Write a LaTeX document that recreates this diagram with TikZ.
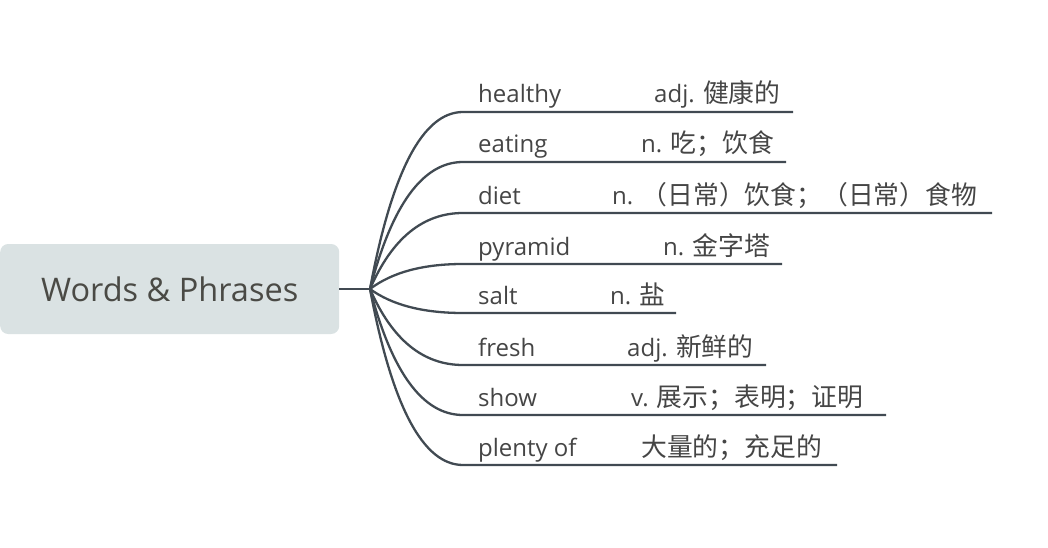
\documentclass[tikz,border=0pt]{standalone}
\usepackage{fontspec}
\setmainfont{Open Sans}
\newfontfamily\cjk{Noto Sans CJK SC}[Scale=1.075]
\usetikzlibrary{calc}
\definecolor{ln}{HTML}{414A52}
\definecolor{tx}{HTML}{454545}
\definecolor{rootbg}{HTML}{DAE2E3}
\definecolor{roottx}{HTML}{4A4A45}

\begin{document}
\begin{tikzpicture}[x=1pt, y=-1pt,
    word/.style={anchor=base west, inner sep=0pt, text=tx, font=\fontsize{24}{28}\selectfont},
    branch/.style={draw=ln, line width=2.3pt}]
    \useasboundingbox (0,0) rectangle (1048,548);

    % Draw root topic
    \node[fill=rootbg, rounded corners=8pt, minimum width=339pt, minimum height=90pt,
        anchor=west, inner sep=0pt, text=roottx, font=\fontsize{32.5}{38}\selectfont] (root) at (0,289) {Words \& Phrases};
    \coordinate (fan) at (370,289);
    \draw[ln, line width=2.8pt] (root.east) -- (fan);

    % Add branches with underlines
    \foreach \y/\w/\mx/\m/\e [count=\i] in {
            112/healthy/654/{adj. \cjk 健康的}/793,
            162/eating/641/{n. \cjk 吃；饮食}/786,
            213/diet/612/{n. \cjk （日常）饮食；（日常）食物}/992,
            264/pyramid/663/{n. \cjk 金字塔}/782,
            313/salt/610/{n. \cjk 盐}/676,
            365/fresh/627/{adj. \cjk 新鲜的}/766,
            415/show/631/{v. \cjk 展示；表明；证明}/886,
            465/plenty of/641/{\cjk 大量的；充足的}/837} {
            \coordinate (b\i) at (463,\y);
            \coordinate (e\i) at (\e,\y);
            \draw[branch] (fan) .. controls ($(fan)!0.667!(403,\y)$) and (423,\y) .. (b\i) -- (e\i);
            \node[word] (w\i) at (478,\y-9) {\w};
            \node[word] (m\i) at (\mx,\y-9) {\m};
        }
\end{tikzpicture}
\end{document}
